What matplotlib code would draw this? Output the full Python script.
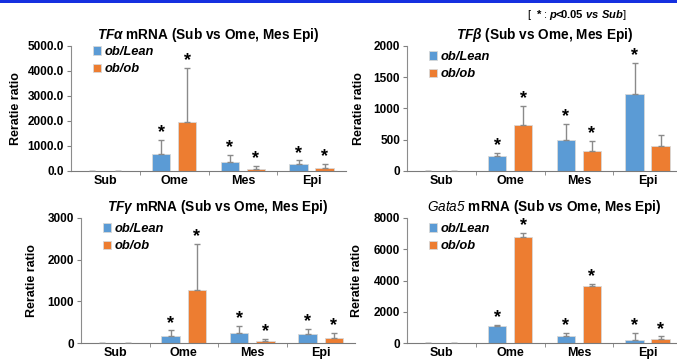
import matplotlib
matplotlib.use('Agg')
import matplotlib.pyplot as plt
import numpy as np
from matplotlib.patches import Rectangle

plt.rcParams['font.family'] = ['Liberation Sans', 'DejaVu Sans']
plt.rcParams['mathtext.fontset'] = 'custom'
plt.rcParams['mathtext.it'] = 'Liberation Sans:italic:bold'
plt.rcParams['mathtext.bf'] = 'Liberation Sans:bold'
plt.rcParams['mathtext.rm'] = 'Liberation Sans:bold'
plt.rcParams['mathtext.sf'] = 'Liberation Sans:italic'

categories = ['Sub', 'Ome', 'Mes', 'Epi']
series_names = ['ob/Lean', 'ob/ob']
BLUE = '#5B9BD5'
ORANGE = '#ED7D31'

# TF alpha
tfa_lean = [1, 667, 347, 267]
tfa_lean_err = [0, 586, 306, 160]
tfa_ob = [1, 1947, 67, 133]
tfa_ob_err = [0, 2186, 146, 147]
tfa_star_lean = [False, True, True, True]
tfa_star_ob = [False, True, True, True]

# TF beta
tfb_lean = [1, 245, 501, 1227]
tfb_lean_err = [0, 43, 251, 501]
tfb_ob = [1, 736, 320, 400]
tfb_ob_err = [0, 309, 165, 176]
tfb_star_lean = [False, True, True, True]
tfb_star_ob = [False, True, True, False]

# TF gamma
tfg_lean = [8, 160, 232, 216]
tfg_lean_err = [0, 144, 176, 128]
tfg_ob = [8, 1264, 40, 112]
tfg_ob_err = [0, 1120, 56, 136]
tfg_star_lean = [False, True, True, True]
tfg_star_ob = [False, True, True, True]

# Gata5
gata_lean = [1, 1088, 427, 171]
gata_lean_err = [0, 85, 213, 490]
gata_ob = [20, 6763, 3648, 235]
gata_ob_err = [0, 298, 149, 192]
gata_star_lean = [False, True, True, True]
gata_star_ob = [False, True, True, True]

W, H = 677, 361
fig = plt.figure(figsize=(W / 100, H / 100), dpi=100)
fig.add_artist(Rectangle((0, 1 - 3 / H), 1, 3 / H, transform=fig.transFigure,
                         color='#1530e0', lw=0))


def px_axes(left, top, right, bottom):
    return fig.add_axes([left / W, 1 - bottom / H, (right - left) / W, (bottom - top) / H])


def panel(ax, title, lean, lean_err, ob, ob_err, st_lean, st_ob, ymax, ystep,
          fmt, leg_y, ylab_x):
    x = np.arange(len(categories))
    bw = 0.27
    off = 0.19
    ax.bar(x - off, lean, bw, color=BLUE, edgecolor='#d8d8d8', lw=0.6, zorder=2,
           label=series_names[0])
    ax.bar(x + off, ob, bw, color=ORANGE, edgecolor='#d8d8d8', lw=0.6, zorder=2,
           label=series_names[1])
    for xs, v, e in [(x - off, lean, lean_err), (x + off, ob, ob_err)]:
        ax.errorbar(xs, v, yerr=[np.zeros(len(e)), e], fmt='none', ecolor='#8a8a8a',
                    elinewidth=1, capsize=2.5, capthick=1, zorder=3)
    for xs, v, e, st in [(x - off, lean, lean_err, st_lean), (x + off, ob, ob_err, st_ob)]:
        for xi, vi, ei, s in zip(xs, v, e, st):
            if s:
                ax.annotate('*', (xi, vi + ei), xytext=(0, -1), textcoords='offset points',
                            ha='center', va='bottom', fontsize=13, fontweight='bold',
                            annotation_clip=False)
    ax.set_xlim(-0.5, 3.5)
    ax.set_ylim(0, ymax)
    ax.set_yticks(np.arange(0, ymax + 1, ystep))
    ax.set_yticklabels([fmt.format(t) for t in np.arange(0, ymax + 1, ystep)])
    ax.set_xticks(x)
    ax.set_xticklabels(categories)
    ax.set_xticks([0.5, 1.5, 2.5], minor=True)
    ax.tick_params(axis='x', which='major', length=0, pad=3, labelsize=9)
    ax.tick_params(axis='x', which='minor', length=3, color='#808080', direction='out')
    ax.tick_params(axis='y', length=3, color='#808080', labelsize=8.5, pad=2)
    for lab in ax.get_xticklabels() + ax.get_yticklabels():
        lab.set_fontweight('bold')
    for s in ['top', 'right']:
        ax.spines[s].set_visible(False)
    ax.spines['left'].set_color('#8c8c8c')
    ax.spines['bottom'].set_color('#7a7a7a')
    ax.set_title(title, fontsize=9.8, fontweight='bold', pad=5)
    ax.set_ylabel('Reratie ratio', fontsize=9, fontweight='bold')
    ax.yaxis.set_label_coords(ylab_x, 0.5)
    ax.legend(loc='upper left', bbox_to_anchor=(0.08, leg_y), frameon=False,
              handlelength=0.6, handleheight=0.6, handletextpad=0.3, labelspacing=0.4,
              borderaxespad=0, borderpad=0,
              prop={'style': 'italic', 'weight': 'bold', 'size': 9.3})


ax1 = px_axes(71, 46, 346, 171)
panel(ax1, r'$\mathit{TF\alpha}$ mRNA (Sub vs Ome, Mes Epi)',
      tfa_lean, tfa_lean_err, tfa_ob, tfa_ob_err, tfa_star_lean, tfa_star_ob,
      5000, 1000, '{:.1f}', 1.0, -0.178)

ax2 = px_axes(407, 46, 682, 171)
panel(ax2, r'$\mathit{TF\beta}$ (Sub vs Ome, Mes Epi)',
      tfb_lean, tfb_lean_err, tfb_ob, tfb_ob_err, tfb_star_lean, tfb_star_ob,
      2000, 500, '{:.0f}', 0.96, -0.153)

ax3 = px_axes(81, 218, 355, 343)
panel(ax3, r'$\mathit{TF\gamma}$ mRNA (Sub vs Ome, Mes Epi)',
      tfg_lean, tfg_lean_err, tfg_ob, tfg_ob_err, tfg_star_lean, tfg_star_ob,
      3000, 1000, '{:.0f}', 0.96, -0.157)

ax4 = px_axes(407, 218, 682, 343)
panel(ax4, r'$\mathsf{Gata5}$ mRNA (Sub vs Ome, Mes Epi)',
      gata_lean, gata_lean_err, gata_ob, gata_ob_err, gata_star_lean, gata_star_ob,
      8000, 2000, '{:.0f}', 0.96, -0.16)

fig.text(527 / W, 1 - 15 / H, r'[  $\mathbf{*}$ : $\mathit{p\!\!<\!\!0.05\ vs\ Sub}$]',
         fontsize=8, va='center', ha='left')

fig.savefig('out.png', dpi=100)
